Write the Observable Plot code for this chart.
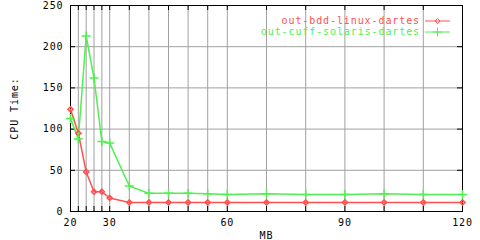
<!DOCTYPE html>
<html><head><meta charset="utf-8">
<script src="https://cdn.jsdelivr.net/npm/d3@7"></script>
<script src="https://cdn.jsdelivr.net/npm/@observablehq/plot@0.6"></script>
<style>body{margin:0;background:#fff}</style>
</head><body><div id="chart"></div>
<script>
const mb = [20, 22, 24, 26, 28, 30, 35, 40, 45, 50, 55, 60, 70, 80, 90, 100, 110, 120];
const bddLinux = [124, 95, 48, 24, 24, 16.5, 11, 11, 11, 11, 11, 11, 11, 11, 11, 11, 11, 11];
const cuffSolaris = [113, 88, 213, 162, 85, 83, 31, 22, 22, 22, 21.5, 20.5, 21.5, 20.5, 20.5, 21.5, 20.5, 20.5];
const xLabelTicks = [20, 30, 60, 90, 120];
const yTicks = [0, 50, 100, 150, 200, 250];
const yGrid = [50, 100, 150, 200];
const seriesNames = ["out-bdd-linux-dartes", "out-cuff-solaris-dartes"];
const colors = ["#ff5050", "#50f050"];

const bddRows = mb.map((m, i) => ({mb: m, t: bddLinux[i], s: seriesNames[0]}));
const cuffRows = mb.map((m, i) => ({mb: m, t: cuffSolaris[i], s: seriesNames[1]}));

const W = 480, H = 240, ML = 70, MR = 18, MT = 5, MB = 29;
const fw = W - ML - MR, fh = H - MT - MB, tk = 5;
const rDia = 2.3, rPlus = 3;

const plot = Plot.plot({
  width: W, height: H, marginLeft: ML, marginRight: MR, marginTop: MT, marginBottom: MB,
  style: {fontFamily: "DejaVu Sans Mono", fontSize: "10px", letterSpacing: "0.9px", background: "#fff", color: "#000"},
  x: {domain: [20, 120]},
  y: {domain: [0, 250]},
  color: {domain: seriesNames, range: colors},
  marks: [
    Plot.gridX(mb, {stroke: "#a0a0a0", strokeOpacity: 1}),
    Plot.gridY(yGrid, {stroke: "#a0a0a0", strokeOpacity: 1}),
    Plot.ruleX(mb, {stroke: "#000", insetTop: fh - tk}),
    Plot.ruleX(mb, {stroke: "#000", insetBottom: fh - tk}),
    Plot.ruleY(yTicks, {stroke: "#000", insetRight: fw - tk}),
    Plot.ruleY(yTicks, {stroke: "#000", insetLeft: fw - tk}),
    Plot.frame({stroke: "#000"}),
    Plot.axisX({ticks: xLabelTicks, tickSize: 0, tickPadding: 7, label: "MB", labelAnchor: "center", labelOffset: 27, labelArrow: "none"}),
    Plot.axisY({ticks: yTicks, tickSize: 0, tickPadding: 7, label: "CPU Time:", labelAnchor: "center", labelOffset: 60, labelArrow: "none"}),
    Plot.line(bddRows, {x: "mb", y: "t", stroke: "s"}),
    Plot.line(cuffRows, {x: "mb", y: "t", stroke: "s"}),
    Plot.dot(bddRows, {x: "mb", y: "t", stroke: "s", symbol: "diamond2", r: rDia}),
    Plot.dot(cuffRows, {x: "mb", y: "t", stroke: "s", symbol: "plus", r: rPlus})
  ]
});
document.getElementById("chart").appendChild(plot);

// legend (top-right, inside frame)
const svg = d3.select(plot);
const lg = svg.append("g").attr("font-family", "DejaVu Sans Mono").attr("font-size", "10px").attr("letter-spacing", "0.9px");
seriesNames.forEach((name, i) => {
  const y = MT + 16 + i * 11;
  lg.append("text").attr("x", W - MR - 42).attr("y", y).attr("dy", "0.32em")
    .attr("text-anchor", "end").attr("fill", colors[i]).text(name);
  lg.append("line").attr("x1", W - MR - 37).attr("x2", W - MR - 12).attr("y1", y).attr("y2", y)
    .attr("stroke", colors[i]);
  const cx = W - MR - 24.5;
  const sym = i === 0 ? d3.symbolDiamond2 : d3.symbolPlus;
  const r = i === 0 ? rDia : rPlus;
  lg.append("path").attr("d", d3.symbol(sym, Math.PI * r * r)()).attr("transform", `translate(${cx},${y})`)
    .attr("fill", "none").attr("stroke", colors[i]);
});
</script>
</body></html>
